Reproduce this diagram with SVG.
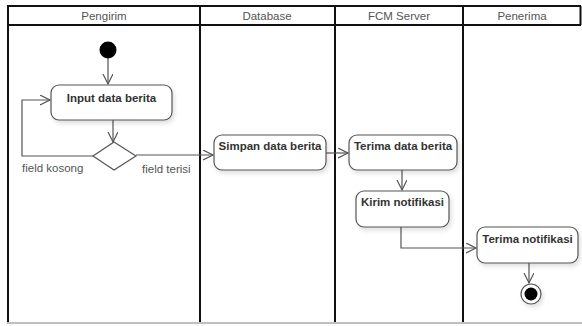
<svg xmlns="http://www.w3.org/2000/svg" width="582" height="326" viewBox="0 0 582 326">
<style>
.hdr{font-family:"Liberation Sans",Arial,sans-serif;font-size:11.5px;fill:#555;text-anchor:middle}
.lbl{font-family:"Liberation Sans",Arial,sans-serif;font-size:11.5px;fill:#555}
.nt{font-family:"Liberation Sans",Arial,sans-serif;font-size:11.5px;font-weight:bold;fill:#333;text-anchor:middle}
.box{fill:#fff;stroke:#555;stroke-width:1.2;filter:url(#sh)}
.ln{fill:none;stroke:#555;stroke-width:1.2}
.lane{stroke:#111;stroke-width:2;fill:none}
</style>
<defs>
<marker id="ar" markerWidth="12" markerHeight="12" refX="10" refY="5" orient="auto" markerUnits="userSpaceOnUse">
<path d="M0,0 L10,5 L0,10" fill="none" stroke="#555" stroke-width="1.2"/>
</marker>
<filter id="sh" x="-10%" y="-10%" width="130%" height="140%">
<feDropShadow dx="2" dy="3" stdDeviation="2" flood-color="#000" flood-opacity="0.12"/>
</filter>
</defs>
<rect width="582" height="326" fill="#fff"/>
<g id="lanes">
<line x1="7" y1="6" x2="581" y2="6" class="lane"/>
<line x1="7" y1="25" x2="581" y2="25" class="lane" stroke-width="1.5"/>
<line x1="8" y1="6" x2="8" y2="322" class="lane"/>
<line x1="200" y1="6" x2="200" y2="322" class="lane"/>
<line x1="335" y1="6" x2="335" y2="322" class="lane"/>
<line x1="463" y1="6" x2="463" y2="322" class="lane"/>
<line x1="580.5" y1="6" x2="580.5" y2="25" class="lane" stroke-width="1.5"/>
<line x1="7" y1="323" x2="582" y2="323" stroke="#aaa" stroke-width="1.5"/>
<text x="104" y="20" class="hdr">Pengirim</text>
<text x="267" y="20" class="hdr">Database</text>
<text x="399" y="20" class="hdr">FCM Server</text>
<text x="522" y="20" class="hdr">Penerima</text>
</g>
<g id="connectors">
<line x1="108" y1="58" x2="108" y2="84" class="ln" marker-end="url(#ar)"/>
<line x1="113" y1="120" x2="113" y2="142" class="ln" marker-end="url(#ar)"/>
<polyline points="93,156 22,156 22,100 50,100" class="ln" marker-end="url(#ar)"/>
<line x1="136" y1="155" x2="213" y2="155" class="ln" marker-end="url(#ar)"/>
<line x1="326" y1="153" x2="348" y2="153" class="ln" marker-end="url(#ar)"/>
<line x1="402" y1="170" x2="402" y2="190" class="ln" marker-end="url(#ar)"/>
<polyline points="401,227 401,248 476,248" class="ln" marker-end="url(#ar)"/>
<line x1="529" y1="263" x2="529" y2="283" class="ln" marker-end="url(#ar)"/>
<text x="22" y="172" class="lbl">field kosong</text>
<text x="142" y="173" class="lbl">field terisi</text>
</g>
<g id="start"><circle cx="108" cy="50" r="8.5" fill="#000"/></g>
<g id="input"><rect x="51" y="85" width="121" height="35" rx="8" class="box"/><text x="111.5" y="102" class="nt">Input data berita</text></g>
<g id="decision"><polygon points="114,142 136,156 114,170 93,156" fill="#fff" stroke="#555" stroke-width="1.2"/></g>
<g id="simpan"><rect x="214" y="135" width="112" height="35" rx="8" class="box"/><text x="270" y="150" class="nt">Simpan data berita</text></g>
<g id="terima"><rect x="349" y="135" width="108" height="35" rx="8" class="box"/><text x="403" y="150" class="nt">Terima data berita</text></g>
<g id="kirim"><rect x="356" y="191" width="93" height="36" rx="8" class="box"/><text x="402.5" y="206" class="nt">Kirim notifikasi</text></g>
<g id="terimanotif"><rect x="477" y="227" width="101" height="36" rx="8" class="box"/><text x="527.5" y="243" class="nt">Terima notifikasi</text></g>
<g id="end"><circle cx="531" cy="294" r="10" fill="#fff" stroke="#555" stroke-width="1.2" filter="url(#sh)"/><circle cx="531" cy="294" r="6.5" fill="#000"/></g>
</svg>
